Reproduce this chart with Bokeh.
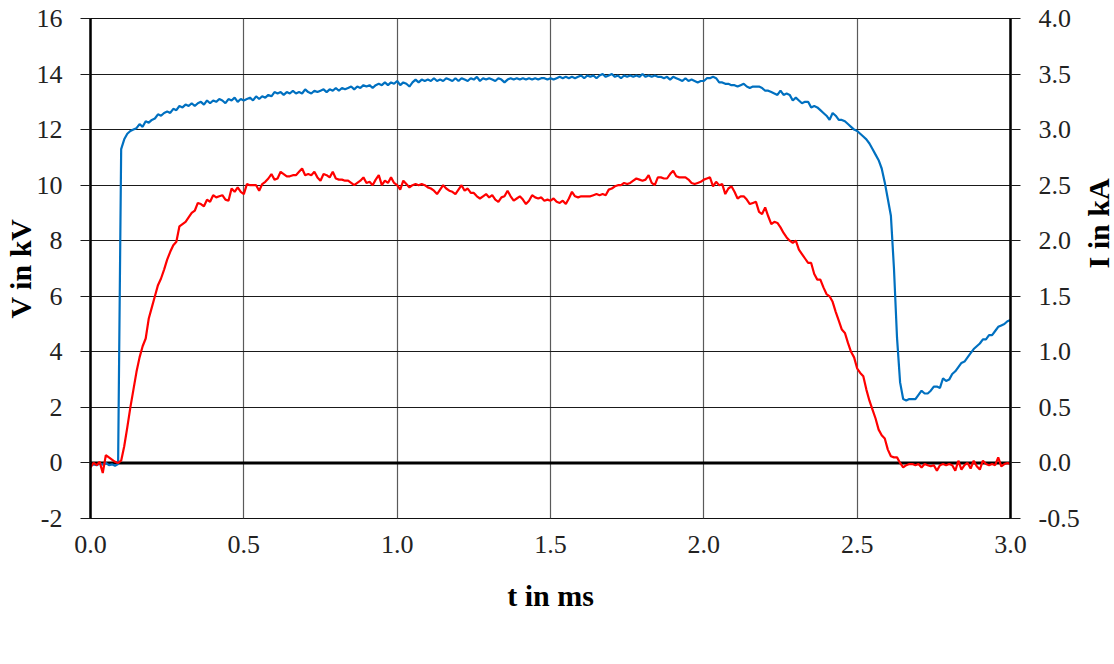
from math import pi

from bokeh.embed import file_html
from bokeh.resources import INLINE
from bokeh.plotting import figure
from bokeh.models import (Range1d, LinearAxis, FixedTicker, NumeralTickFormatter,
                          Span, Legend, LegendItem)

# sample times in ms (10 us spacing)
t_ms = [round(0.01 * k, 2) for k in range(301)]

# voltage trace in kV
voltage_kv = [
    -0.10, -0.05, -0.08, -0.02, -0.06, 0.00, -0.08, -0.05, -0.10, -0.04,
    11.30, 11.65, 11.85, 11.95, 12.00, 12.05, 12.20, 12.10, 12.30, 12.25,
    12.35, 12.40, 12.55, 12.50, 12.60, 12.65, 12.60, 12.75, 12.70, 12.85,
    12.80, 12.90, 12.85, 12.95, 12.85, 12.95, 13.00, 12.90, 13.05, 12.95,
    13.05, 13.00, 13.10, 13.05, 12.95, 13.10, 13.05, 13.15, 13.00, 13.10,
    13.05, 13.10, 13.15, 13.05, 13.20, 13.10, 13.20, 13.15, 13.25, 13.20,
    13.35, 13.30, 13.35, 13.25, 13.35, 13.30, 13.40, 13.30, 13.35, 13.30,
    13.45, 13.35, 13.30, 13.40, 13.35, 13.40, 13.45, 13.35, 13.45, 13.40,
    13.50, 13.40, 13.50, 13.45, 13.50, 13.55, 13.45, 13.55, 13.50, 13.60,
    13.55, 13.60, 13.50, 13.60, 13.65, 13.60, 13.70, 13.60, 13.70, 13.65,
    13.75, 13.60, 13.70, 13.65, 13.55, 13.70, 13.80, 13.70, 13.80, 13.75,
    13.80, 13.75, 13.85, 13.75, 13.80, 13.75, 13.85, 13.80, 13.75, 13.85,
    13.75, 13.85, 13.80, 13.75, 13.85, 13.80, 13.90, 13.75, 13.85, 13.80,
    13.85, 13.80, 13.75, 13.85, 13.80, 13.70, 13.80, 13.85, 13.80, 13.85,
    13.80, 13.85, 13.80, 13.85, 13.80, 13.85, 13.80, 13.85, 13.85, 13.80,
    13.85, 13.80, 13.85, 13.90, 13.85, 13.90, 13.85, 13.90, 13.85, 13.90,
    13.95, 13.85, 13.95, 13.90, 13.95, 13.85, 13.95, 14.00, 13.90, 13.95,
    14.00, 13.90, 13.95, 13.85, 13.95, 13.90, 13.95, 13.90, 13.95, 13.90,
    14.00, 13.90, 13.95, 13.90, 13.95, 13.90, 13.90, 13.85, 13.90, 13.80,
    13.90, 13.85, 13.80, 13.75, 13.85, 13.75, 13.80, 13.75, 13.70, 13.75,
    13.75, 13.85, 13.85, 13.90, 13.85, 13.70, 13.70, 13.65, 13.65, 13.60,
    13.60, 13.55, 13.60, 13.65, 13.55, 13.50, 13.55, 13.55, 13.55, 13.50,
    13.40, 13.40, 13.35, 13.30, 13.25, 13.40, 13.25, 13.30, 13.25, 13.05,
    13.15, 13.05, 12.95, 13.00, 13.00, 12.80, 12.85, 12.80, 12.70, 12.60,
    12.50, 12.35, 12.60, 12.50, 12.35, 12.35, 12.30, 12.20, 12.10, 12.00,
    11.95, 11.85, 11.75, 11.65, 11.50, 11.30, 11.10, 10.90, 10.60, 10.10,
    9.50, 8.90, 7.00, 4.50, 2.90, 2.30, 2.25, 2.30, 2.30, 2.30,
    2.45, 2.60, 2.50, 2.50, 2.60, 2.75, 2.75, 2.70, 3.05, 2.95,
    3.00, 3.20, 3.30, 3.45, 3.60, 3.65, 3.80, 3.95, 4.10, 4.20,
    4.30, 4.45, 4.45, 4.60, 4.60, 4.75, 4.90, 4.95, 5.00, 5.10,
    5.15,
]

# current trace in kA
current_ka = [
    -0.04, 0.00, -0.02, 0.01, -0.09, 0.07, 0.05, 0.03, 0.01, 0.00,
    0.02, 0.15, 0.32, 0.50, 0.66, 0.82, 0.95, 1.05, 1.12, 1.30,
    1.40, 1.50, 1.60, 1.66, 1.74, 1.83, 1.90, 1.96, 1.99, 2.13,
    2.15, 2.17, 2.21, 2.25, 2.27, 2.34, 2.33, 2.31, 2.37, 2.35,
    2.41, 2.39, 2.40, 2.41, 2.37, 2.36, 2.47, 2.44, 2.48, 2.44,
    2.42, 2.51, 2.50, 2.50, 2.50, 2.45, 2.51, 2.53, 2.56, 2.60,
    2.55, 2.56, 2.62, 2.60, 2.58, 2.58, 2.59, 2.59, 2.62, 2.65,
    2.59, 2.60, 2.59, 2.62, 2.57, 2.54, 2.60, 2.59, 2.57, 2.62,
    2.56, 2.55, 2.55, 2.54, 2.54, 2.52, 2.50, 2.52, 2.54, 2.57,
    2.52, 2.53, 2.50, 2.55, 2.59, 2.50, 2.54, 2.52, 2.57, 2.52,
    2.50, 2.46, 2.54, 2.51, 2.48, 2.50, 2.51, 2.50, 2.51, 2.50,
    2.48, 2.47, 2.45, 2.42, 2.46, 2.50, 2.47, 2.45, 2.44, 2.42,
    2.46, 2.50, 2.45, 2.47, 2.43, 2.43, 2.40, 2.38, 2.40, 2.42,
    2.39, 2.41, 2.37, 2.35, 2.39, 2.40, 2.45, 2.40, 2.36, 2.38,
    2.40, 2.37, 2.33, 2.36, 2.41, 2.39, 2.38, 2.39, 2.36, 2.37,
    2.36, 2.38, 2.35, 2.34, 2.36, 2.33, 2.38, 2.44, 2.40, 2.39,
    2.40, 2.40, 2.40, 2.40, 2.41, 2.42, 2.41, 2.42, 2.41, 2.46,
    2.47, 2.49, 2.50, 2.50, 2.52, 2.51, 2.52, 2.54, 2.56, 2.55,
    2.54, 2.55, 2.59, 2.52, 2.50, 2.57, 2.57, 2.56, 2.56, 2.60,
    2.63, 2.58, 2.57, 2.57, 2.57, 2.55, 2.52, 2.51, 2.52, 2.53,
    2.55, 2.56, 2.57, 2.49, 2.53, 2.50, 2.51, 2.42, 2.47, 2.49,
    2.44, 2.38, 2.40, 2.40, 2.37, 2.33, 2.34, 2.35, 2.26, 2.24,
    2.30, 2.22, 2.15, 2.17, 2.16, 2.12, 2.07, 2.03, 2.00, 1.98,
    2.00, 1.92, 1.88, 1.84, 1.80, 1.80, 1.70, 1.65, 1.65, 1.58,
    1.52, 1.50, 1.45, 1.36, 1.28, 1.20, 1.17, 1.08, 1.00, 0.95,
    0.85, 0.81, 0.78, 0.66, 0.56, 0.48, 0.40, 0.30, 0.25, 0.22,
    0.12, 0.06, 0.05, 0.05, 0.00, -0.04, -0.02, -0.01, -0.01, -0.02,
    -0.01, -0.04, -0.01, -0.02, -0.03, -0.02, -0.07, -0.02, -0.01, -0.02,
    -0.01, -0.02, -0.07, 0.02, -0.06, -0.02, 0.00, -0.05, 0.02, -0.03,
    -0.06, 0.02, -0.01, -0.02, -0.01, -0.02, 0.05, -0.03, -0.01, 0.00,
    -0.01,
]

t_ticks = [0.0, 0.5, 1.0, 1.5, 2.0, 2.5, 3.0]
v_ticks = [-2, 0, 2, 4, 6, 8, 10, 12, 14, 16]
i_ticks = [-0.5, 0.0, 0.5, 1.0, 1.5, 2.0, 2.5, 3.0, 3.5, 4.0]

FONT = "Liberation Serif"
TICK_SIZE = "26px"
TITLE_SIZE = "30px"
BLUE = "#0070C0"
RED = "#FF0000"

p = figure(frame_width=920, frame_height=500, output_backend="svg",
           toolbar_location=None,
           x_range=Range1d(0.0, 3.0), y_range=Range1d(-2, 16),
           min_border_left=90, min_border_right=104,
           min_border_top=18, min_border_bottom=0)
p.extra_y_ranges = {"current": Range1d(-0.5, 4.0)}
p.background_fill_color = "white"
p.border_fill_color = "white"
p.outline_line_color = "#111111"
p.outline_line_width = 1.2

# grid
p.ygrid.ticker = FixedTicker(ticks=v_ticks)
p.ygrid.grid_line_color = "#1a1a1a"
p.ygrid.grid_line_width = 1.2
p.xgrid.ticker = FixedTicker(ticks=t_ticks)
p.xgrid.grid_line_color = "#5a5a5a"
p.xgrid.grid_line_width = 1.2


def style_axis(ax, standoff):
    ax.major_label_standoff = standoff
    ax.major_label_text_font = FONT
    ax.major_label_text_font_size = TICK_SIZE
    ax.major_label_text_color = "#222222"
    ax.axis_label_text_font = FONT
    ax.axis_label_text_font_size = TITLE_SIZE
    ax.axis_label_text_font_style = "bold"
    ax.axis_label_text_color = "black"
    ax.minor_tick_line_color = None


# x axis: labels only
xa = p.xaxis[0]
xa.ticker = FixedTicker(ticks=t_ticks)
xa.formatter = NumeralTickFormatter(format="0.0")
xa.axis_line_color = None
xa.major_tick_line_color = None
xa.major_tick_out = 0
xa.major_tick_in = 0
style_axis(xa, 17)
xa.axis_label = "t in ms"
xa.axis_label_standoff = 23

# left voltage axis
ya = p.yaxis[0]
ya.ticker = FixedTicker(ticks=v_ticks)
ya.major_label_overrides = {-2: "-2"}
ya.axis_line_color = "black"
ya.axis_line_width = 2.5
ya.major_tick_line_color = "#1a1a1a"
ya.major_tick_line_width = 1.2
ya.major_tick_out = 10
ya.major_tick_in = 0
style_axis(ya, 18)
ya.axis_label = "V in kV"
ya.axis_label_standoff = -3

# right current axis
ra = LinearAxis(y_range_name="current", ticker=FixedTicker(ticks=i_ticks),
                formatter=NumeralTickFormatter(format="0.0"))
ra.major_label_overrides = {-0.5: "-0.5"}
ra.axis_line_color = "black"
ra.axis_line_width = 2.5
ra.major_tick_line_color = "#1a1a1a"
ra.major_tick_line_width = 1.2
ra.major_tick_out = 10
ra.major_tick_in = 0
style_axis(ra, 18)
ra.axis_label = "I in kA"
ra.axis_label_standoff = 16
ra.axis_label_orientation = pi / 2
p.add_layout(ra, "right")

# zero line
zero = Span(location=0, dimension="width", line_color="black", line_width=3)
zero.level = "underlay"
p.add_layout(zero)

r_v = p.line(t_ms, voltage_kv, line_color=BLUE, line_width=2.2)
r_i = p.line(t_ms, current_ka, line_color=RED, line_width=2.2, y_range_name="current")

legend = Legend(items=[LegendItem(label="voltage", renderers=[r_v]),
                       LegendItem(label="current", renderers=[r_i])],
                orientation="horizontal", location=(335, 22),
                border_line_color=None, background_fill_alpha=0,
                padding=0, margin=22, spacing=73, glyph_width=23,
                glyph_height=20, label_standoff=4,
                label_text_font=FONT, label_text_font_size=TICK_SIZE,
                label_text_color="#222222")
p.add_layout(legend, "below")

open("out.html", "w").write(file_html(p, INLINE))
